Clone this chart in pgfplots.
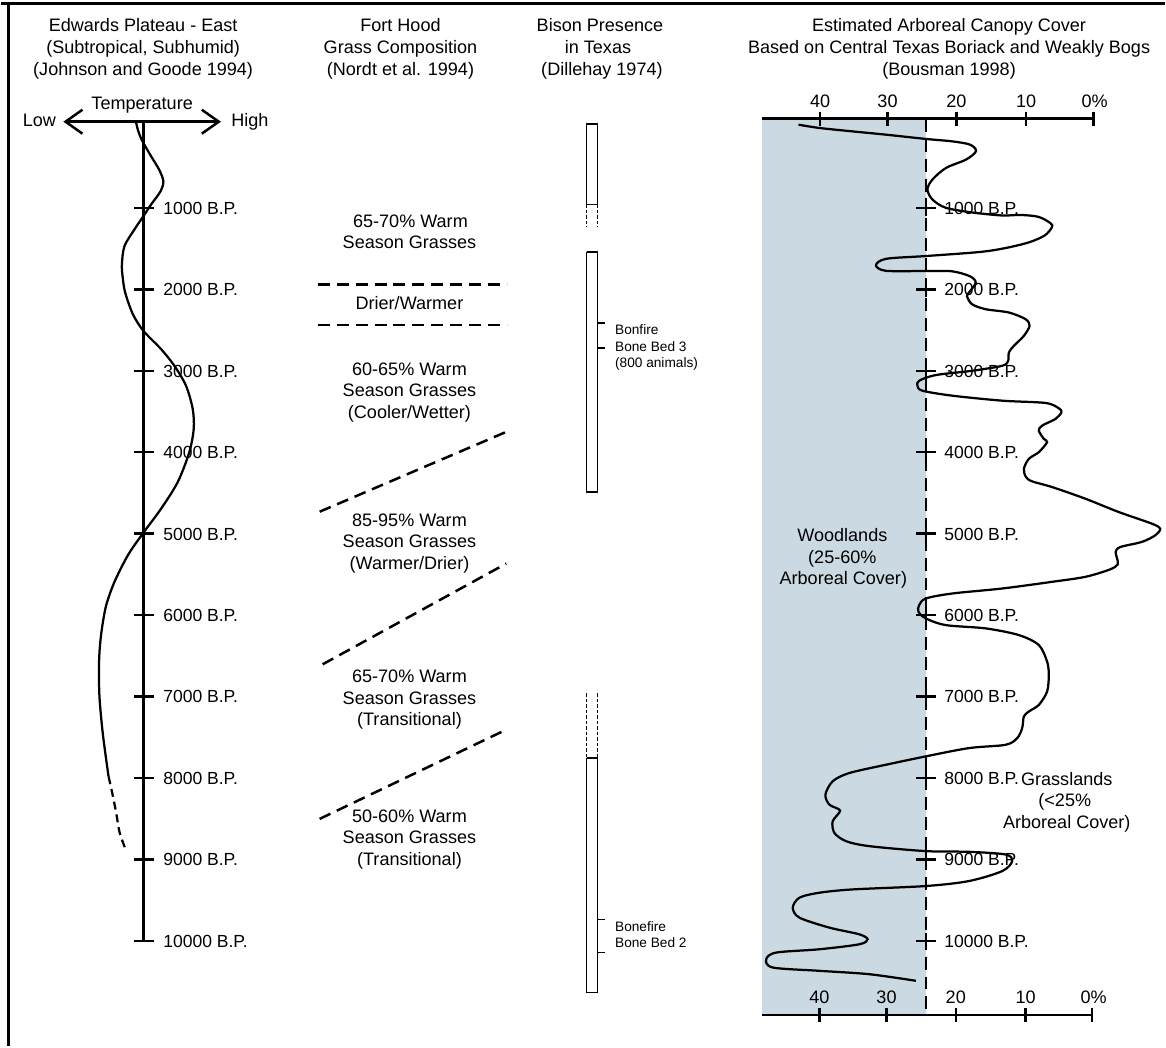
\documentclass[border=0pt]{standalone}
\usepackage{pgfplots}
\pgfplotsset{compat=1.18}
\usepackage{fontspec}
\setmainfont{Liberation Sans}
\usetikzlibrary{arrows.meta}
\definecolor{shade}{RGB}{203,217,226}
\newcommand{\ft}{\fontsize{10.3}{12}\selectfont}
\newcommand{\fk}{\fontsize{10}{12}\selectfont}
\newcommand{\fs}{\fontsize{7.8}{9}\selectfont}
\begin{document}
\begin{tikzpicture}
\begin{axis}[width=23.32cm,height=20.98cm,scale only axis,
  xmin=0,xmax=1166,ymin=0,ymax=1049,y dir=reverse,
  hide axis,clip=false,unbounded coords=jump]
% invisible frame for bounding box
\addplot[draw=none] coordinates {(0,0) (1166,1049)};
% border
\addplot[line width=0.6mm] coordinates {(0,4) (1166,4)};
\addplot[line width=0.6mm] coordinates {(7.3,2.6) (7.3,1049)};

% ===== Titles =====
\node[anchor=base,font=\ft] at (axis cs:142,32) {Edwards Plateau - East};
\node[anchor=base,font=\ft] at (axis cs:142,54) {(Subtropical, Subhumid)};
\node[anchor=base,font=\ft] at (axis cs:142,76) {(Johnson and Goode 1994)};
\node[anchor=base,font=\ft] at (axis cs:400,32) {Fort Hood};
\node[anchor=base,font=\ft] at (axis cs:400,54) {Grass Composition};
\node[anchor=base,font=\ft] at (axis cs:400,76) {(Nordt et al. 1994)};
\node[anchor=base,font=\ft] at (axis cs:600,32) {Bison Presence};
\node[anchor=base,font=\ft] at (axis cs:598,54) {in Texas};
\node[anchor=base,font=\ft] at (axis cs:602,76) {(Dillehay 1974)};
\node[anchor=base,font=\ft] at (axis cs:950,32) {Estimated Arboreal Canopy Cover};
\node[anchor=base,font=\ft] at (axis cs:950,54) {Based on Central Texas Boriack and Weakly Bogs};
\node[anchor=base,font=\ft] at (axis cs:950,76) {(Bousman 1998)};

% ===== Left panel: temperature =====
\node[anchor=base,font=\ft] at (axis cs:141,110) {Temperature};
\node[anchor=base,font=\ft] at (axis cs:38,127) {Low};
\node[anchor=base,font=\ft] at (axis cs:249,127) {High};
\addplot[line width=0.5mm,
  {Straight Barb[length=3.4mm,width=4.8mm,line width=0.5mm]}-{Straight Barb[length=3.4mm,width=4.8mm,line width=0.5mm]}]
  coordinates {(62,122) (220,122)};
\addplot[line width=0.5mm] coordinates {(142.3,122) (142.3,943.3)};
\addplot[line width=0.5mm] coordinates {
 (133,208.4) (153,208.4) (nan,nan)
 (133,290.0) (153,290.0) (nan,nan)
 (133,371.7) (153,371.7) (nan,nan)
 (133,453.3) (153,453.3) (nan,nan)
 (133,535.0) (153,535.0) (nan,nan)
 (133,616.7) (153,616.7) (nan,nan)
 (133,698.3) (153,698.3) (nan,nan)
 (133,780.0) (153,780.0) (nan,nan)
 (133,861.6) (153,861.6) (nan,nan)
 (133,943.3) (153,943.3)};
\node[anchor=base west,font=\fk] at (axis cs:156,214.8) {1000 B.P.};
\node[anchor=base west,font=\fk] at (axis cs:156,296.4) {2000 B.P.};
\node[anchor=base west,font=\fk] at (axis cs:156,378.1) {3000 B.P.};
\node[anchor=base west,font=\fk] at (axis cs:156,459.7) {4000 B.P.};
\node[anchor=base west,font=\fk] at (axis cs:156,541.4) {5000 B.P.};
\node[anchor=base west,font=\fk] at (axis cs:156,623.1) {6000 B.P.};
\node[anchor=base west,font=\fk] at (axis cs:156,704.7) {7000 B.P.};
\node[anchor=base west,font=\fk] at (axis cs:156,786.4) {8000 B.P.};
\node[anchor=base west,font=\fk] at (axis cs:156,868.0) {9000 B.P.};
\node[anchor=base west,font=\fk] at (axis cs:156,949.7) {10000 B.P.};
% temperature curve
\addplot[line width=0.45mm,smooth] coordinates {
 (135,123) (137,131) (141,141) (150,156.7) (158,170) (162.3,181.7) (159.3,192)
 (150,205) (142.3,216.7) (133.3,230) (123.3,246.7) (120.7,265) (121.5,278)
 (124,293.3) (131.7,315) (142.3,331.7) (160,350) (173.3,366.7) (185,386.7)
 (191.7,410) (192.7,430) (188.3,453.3) (176.7,483.3) (160,510) (142.3,534)
 (126.7,556.7) (113.3,583.3) (105,606.7) (100.7,630) (98.5,650) (97.7,670)
 (98.3,700) (101.7,736.7) (107.3,778.3)};
\addplot[line width=0.45mm,smooth,dash pattern=on 1.6mm off 1.0mm] coordinates {
 (107.3,778.3) (111,795) (115,815) (118.5,835) (125,853)};

% ===== Middle panel: grass composition =====
\addplot[line width=0.5mm,dash pattern=on 2.4mm off 1.4mm] coordinates {(317,285) (507,285)};
\addplot[line width=0.5mm,dash pattern=on 2.4mm off 1.4mm] coordinates {(317,326) (507,326)};
\addplot[line width=0.5mm,dash pattern=on 2.4mm off 1.4mm] coordinates {(319,513) (506,433)};
\addplot[line width=0.5mm,dash pattern=on 2.4mm off 1.4mm] coordinates {(322,666) (506,565)};
\addplot[line width=0.5mm,dash pattern=on 2.4mm off 1.4mm] coordinates {(319,821) (505,732)};
\node[anchor=base,font=\ft] at (axis cs:410,228) {65-70\% Warm};
\node[anchor=base,font=\ft] at (axis cs:409,249.5) {Season Grasses};
\node[anchor=base,font=\ft] at (axis cs:409,310) {Drier/Warmer};
\node[anchor=base,font=\ft] at (axis cs:409,376) {60-65\% Warm};
\node[anchor=base,font=\ft] at (axis cs:409,397.7) {Season Grasses};
\node[anchor=base,font=\ft] at (axis cs:409,419.3) {(Cooler/Wetter)};
\node[anchor=base,font=\ft] at (axis cs:409,527.7) {85-95\% Warm};
\node[anchor=base,font=\ft] at (axis cs:409,549.3) {Season Grasses};
\node[anchor=base,font=\ft] at (axis cs:409,571) {(Warmer/Drier)};
\node[anchor=base,font=\ft] at (axis cs:409,684.3) {65-70\% Warm};
\node[anchor=base,font=\ft] at (axis cs:409,706) {Season Grasses};
\node[anchor=base,font=\ft] at (axis cs:409,727.5) {(Transitional)};
\node[anchor=base,font=\ft] at (axis cs:409,824.3) {50-60\% Warm};
\node[anchor=base,font=\ft] at (axis cs:409,846) {Season Grasses};
\node[anchor=base,font=\ft] at (axis cs:409,867.5) {(Transitional)};

% ===== Bison presence =====
\addplot[line width=0.3mm] coordinates {(586.7,205) (586.7,124.3) (597.3,124.3) (597.3,205) (586.7,205)};
\addplot[line width=0.3mm,dash pattern=on 0.7mm off 0.4mm] coordinates {(586.7,205) (586.7,228) (nan,nan) (597.3,205) (597.3,228)};
\addplot[line width=0.3mm] coordinates {(586.7,252.7) (597.3,252.7) (597.3,493.3) (586.7,493.3) (586.7,252.7)};
\addplot[line width=0.3mm] coordinates {(597.3,324) (605,324) (nan,nan) (597.3,349) (605,349)};
\node[anchor=base west,font=\fs] at (axis cs:609,335.7) {Bonfire};
\node[anchor=base west,font=\fs] at (axis cs:609,352.3) {Bone Bed 3};
\node[anchor=base west,font=\fs] at (axis cs:609,368.7) {(800 animals)};
\addplot[line width=0.3mm,dash pattern=on 0.7mm off 0.4mm] coordinates {(586.7,695) (586.7,760) (nan,nan) (597.3,695) (597.3,760)};
\addplot[line width=0.3mm] coordinates {(586.7,760) (597.3,760) (597.3,995) (586.7,995) (586.7,760)};
\addplot[line width=0.3mm] coordinates {(597.3,921.7) (605,921.7) (nan,nan) (597.3,955) (605,955)};
\node[anchor=base west,font=\fs] at (axis cs:609,934) {Bonefire};
\node[anchor=base west,font=\fs] at (axis cs:609,950) {Bone Bed 2};

% ===== Right panel: arboreal canopy =====
\addplot[fill=shade,draw=none] coordinates {(762.7,119) (926.7,119) (926.7,1017.7) (762.7,1017.7)};
\addplot[line width=0.5mm,dash pattern=on 2.6mm off 1.4mm] coordinates {(926.7,119) (926.7,1017.7)};
\addplot[line width=0.55mm] coordinates {(762.7,119) (1095.5,119)};
\addplot[line width=0.55mm] coordinates {(762.7,1017.7) (1094.5,1017.7)};
\addplot[line width=0.5mm] coordinates {
 (820.7,112) (820.7,126.7) (nan,nan) (888.3,112) (888.3,126.7) (nan,nan)
 (957.3,112) (957.3,126.7) (nan,nan) (1027.3,112) (1027.3,126.7) (nan,nan)
 (1095,112) (1095,126.7) (nan,nan)
 (820,1011) (820,1025) (nan,nan) (887.3,1011) (887.3,1025) (nan,nan)
 (956.7,1011) (956.7,1025) (nan,nan) (1026.7,1011) (1026.7,1025) (nan,nan)
 (1093.3,1011) (1093.3,1025)};
\node[anchor=base,font=\ft] at (axis cs:820.7,107.5) {40};
\node[anchor=base,font=\ft] at (axis cs:888.3,107.5) {30};
\node[anchor=base,font=\ft] at (axis cs:957.3,107.5) {20};
\node[anchor=base,font=\ft] at (axis cs:1027.3,107.5) {10};
\node[anchor=base,font=\ft] at (axis cs:1096,107.5) {0\%};
\node[anchor=base,font=\ft] at (axis cs:820,1006) {40};
\node[anchor=base,font=\ft] at (axis cs:887.3,1006) {30};
\node[anchor=base,font=\ft] at (axis cs:956.7,1006) {20};
\node[anchor=base,font=\ft] at (axis cs:1026.7,1006) {10};
\node[anchor=base,font=\ft] at (axis cs:1095,1006) {0\%};
% year crosses
\addplot[line width=0.5mm] coordinates {
 (916.7,208.4) (936.7,208.4) (nan,nan) (926.7,200.4) (926.7,216.4) (nan,nan)
 (916.7,290.0) (936.7,290.0) (nan,nan) (926.7,282.0) (926.7,298.0) (nan,nan)
 (916.7,371.7) (936.7,371.7) (nan,nan) (926.7,363.7) (926.7,379.7) (nan,nan)
 (916.7,453.3) (936.7,453.3) (nan,nan) (926.7,445.3) (926.7,461.3) (nan,nan)
 (916.7,535.0) (936.7,535.0) (nan,nan) (926.7,527.0) (926.7,543.0) (nan,nan)
 (916.7,616.7) (936.7,616.7) (nan,nan) (926.7,608.7) (926.7,624.7) (nan,nan)
 (916.7,698.3) (936.7,698.3) (nan,nan) (926.7,690.3) (926.7,706.3) (nan,nan)
 (916.7,780.0) (936.7,780.0) (nan,nan) (926.7,772.0) (926.7,788.0) (nan,nan)
 (916.7,861.6) (936.7,861.6) (nan,nan) (926.7,853.6) (926.7,869.6) (nan,nan)
 (916.7,943.3) (936.7,943.3) (nan,nan) (926.7,935.3) (926.7,951.3)};
\node[anchor=base west,font=\fk] at (axis cs:939,214.8) {1000 B.P.};
\node[anchor=base west,font=\fk] at (axis cs:939,296.4) {2000 B.P.};
\node[anchor=base west,font=\fk] at (axis cs:939,378.1) {3000 B.P.};
\node[anchor=base west,font=\fk] at (axis cs:939,459.7) {4000 B.P.};
\node[anchor=base west,font=\fk] at (axis cs:939,541.4) {5000 B.P.};
\node[anchor=base west,font=\fk] at (axis cs:939,623.1) {6000 B.P.};
\node[anchor=base west,font=\fk] at (axis cs:939,704.7) {7000 B.P.};
\node[anchor=base west,font=\fk] at (axis cs:939,786.4) {8000 B.P.};
\node[anchor=base west,font=\fk] at (axis cs:939,868.0) {9000 B.P.};
\node[anchor=base west,font=\fk] at (axis cs:939,949.7) {10000 B.P.};
\node[anchor=base,font=\ft] at (axis cs:843,542.7) {Woodlands};
\node[anchor=base,font=\ft] at (axis cs:843,564.5) {(25-60\%};
\node[anchor=base,font=\ft] at (axis cs:844,586) {Arboreal Cover)};
\node[anchor=base,font=\ft] at (axis cs:1068,787.3) {Grasslands};
\node[anchor=base,font=\ft] at (axis cs:1066,809) {(<25\%};
\node[anchor=base,font=\ft] at (axis cs:1068,830.5) {Arboreal Cover)};
% canopy curve
\addplot[line width=0.45mm,smooth,tension=0.5] coordinates {
 (799,125) (820,128.3) (853,131.7) (886.7,135) (926.7,139.3) (953,141.7) (971,145)
 (977,151.5) (967,160) (947,168.3) (933.3,180) (928.3,190) (933.3,200) (946.7,208.3)
 (973,213) (1003,216) (1022,215.5) (1040,217.5) (1052,224) (1053,228) (1046,236)
 (1030,243) (1005,249) (980,252.7) (926.7,256.7) (886.7,259.5) (876.7,266)
 (886.7,271.5) (926.7,271.7) (953,272) (971,277) (976.7,283.3) (970,293.3) (968,297)
 (973,305) (986.7,310) (1010,313.3) (1026.7,320) (1030.7,326.7) (1025,336.7)
 (1015,346.7) (1010,353.3) (1009.3,361.7) (1003.3,366.7) (973.3,371.7) (936.7,376)
 (920,381.7) (918.3,386.7) (923.3,391.7) (953.3,396.7) (1003.3,401.7) (1046.7,404)
 (1060,409.3) (1062.7,413.3) (1056.7,420) (1043.3,426.7) (1040,431.7) (1045,440)
 (1048.3,443.3) (1040,453.3) (1030,460) (1025,470) (1027,478) (1033,482.5)
 (1053.3,488.3) (1086.7,500) (1120,513.3) (1153.3,525) (1161.7,530) (1156.7,536.7)
 (1143.3,543.3) (1122,548.3) (1117,553) (1118.5,560) (1119,566) (1111,571)
 (1086.7,578.3) (1053.3,583.3) (1003.3,590) (953.3,595) (926.7,600) (920,606.7)
 (919.3,613.3) (926.7,620) (946.7,626.7) (986.7,630) (1020,636.7) (1040,646.7)
 (1048.3,663.3) (1050,676.7) (1048.3,693.3) (1040,706.7) (1030,713.3) (1025,718.3)
 (1023.3,730) (1018.3,740) (1006.7,746.7) (970,750) (926.7,758.3) (886.7,766.7)
 (850,775) (833.3,783.3) (826,796.7) (830,806.7) (840.7,812.7) (833.3,823.3)
 (835,835) (846.7,843.3) (870,848.3) (926.7,853.3) (970,854) (1006.7,856.7)
 (1013.3,863.3) (1003.3,873.3) (970,883.3) (926.7,888.3) (853.3,891.7) (820,895)
 (800,900) (793.3,910) (800,920) (830,930) (860,936.7) (868.3,941.7) (860,946.7)
 (820,951.7) (776.7,955) (766.7,961.7) (773.3,970) (820,973.3) (870,976.7)
 (916.7,983.3)};
\end{axis}
\end{tikzpicture}
\end{document}
